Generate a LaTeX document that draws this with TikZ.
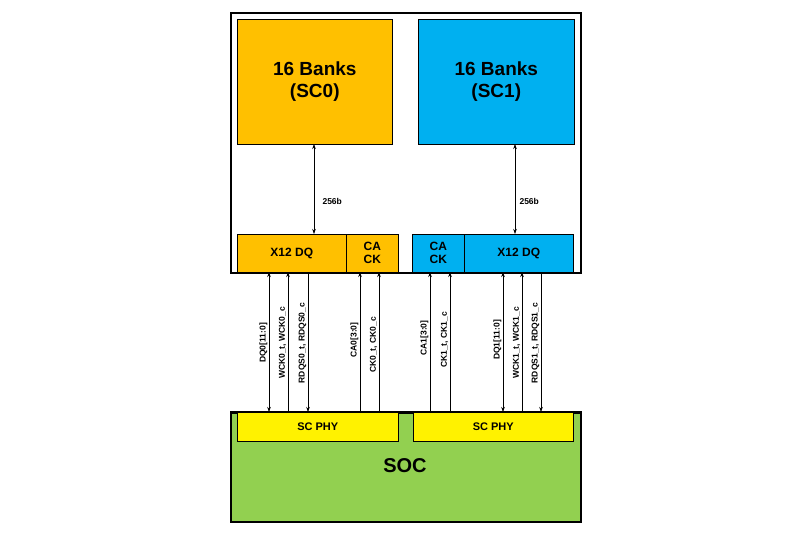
\documentclass[tikz,border=0pt]{standalone}
\usepackage{fontspec}
\setmainfont{Liberation Sans}
\usetikzlibrary{arrows.meta}
\begin{document}
\begin{tikzpicture}[x=1pt,y=-1pt,
  box/.style={draw=black,line width=0.6pt},
  big/.style={font=\fontsize{19}{22}\selectfont\bfseries,align=center},
  mid/.style={font=\fontsize{12}{13}\selectfont\bfseries,align=center},
  lab/.style={font=\fontsize{8.5}{9}\selectfont\bfseries,rotate=90,anchor=south,inner sep=1.5pt},
  sig/.style={draw=black,line width=0.5pt,>={Stealth[length=5pt,width=3.5pt]}}]
\useasboundingbox (0,0) rectangle (800,533);
% memory outer
\node[draw,line width=2pt,minimum width=350,minimum height=260,anchor=north west,inner sep=0] (mem) at (230,12) {};
\node[box,fill={rgb,255:red,255;green,192;blue,0},minimum width=155,minimum height=125,anchor=north west,inner sep=0,big] (b0) at (237,19) {16 Banks\\(SC0)};
\node[box,fill={rgb,255:red,0;green,176;blue,240},minimum width=156,minimum height=125,anchor=north west,inner sep=0,big] (b1) at (418,19) {16 Banks\\(SC1)};
% strips
\node[box,fill={rgb,255:red,255;green,192;blue,0},minimum width=109,minimum height=38,anchor=north west,inner sep=0,mid] (dq0) at (237,234) {X12 DQ};
\node[box,fill={rgb,255:red,255;green,192;blue,0},minimum width=52,minimum height=38,anchor=north west,inner sep=0,mid] (ca0) at (346,234) {CA\\CK};
\node[box,fill={rgb,255:red,0;green,176;blue,240},minimum width=52,minimum height=38,anchor=north west,inner sep=0,mid] (ca1) at (412,234) {CA\\CK};
\node[box,fill={rgb,255:red,0;green,176;blue,240},minimum width=109,minimum height=38,anchor=north west,inner sep=0,mid] (dq1) at (464,234) {X12 DQ};
% SOC
\node[draw,line width=2pt,fill={rgb,255:red,146;green,208;blue,80},minimum width=350,minimum height=109,anchor=north west,inner sep=0] (soc) at (230,412) {};
\node[big,font=\fontsize{20}{22}\selectfont\bfseries] (soct) at (405,466) {SOC};
\node[box,fill=yellow,minimum width=161,minimum height=29,anchor=north west,inner sep=0,mid,font=\fontsize{11}{12}\selectfont\bfseries] (p0) at (237,412) {SC PHY};
\node[box,fill=yellow,minimum width=160,minimum height=29,anchor=north west,inner sep=0,mid,font=\fontsize{11}{12}\selectfont\bfseries] (p1) at (413,412) {SC PHY};
\draw[draw,line width=2pt] (soc.north west) -- (soc.north east);
% bank arrows
\coordinate (a0t) at (314,144); \coordinate (a0b) at (314,234);
\coordinate (a1t) at (515,144); \coordinate (a1b) at (515,234);
\draw[sig,<->] (a0t) -- (a0b);
\draw[sig,<->] (a1t) -- (a1b);
\node[font=\fontsize{8.5}{9}\selectfont\bfseries,anchor=west] (l0) at (319,201) {256b};
\node[font=\fontsize{8.5}{9}\selectfont\bfseries,anchor=west] (l1) at (516,201) {256b};
% signals
\foreach \n/\x/\st/\t/\yy in {s1/269/<->/{DQ0[11:0]}/343,s2/288/->/{WCK0\_t, WCK0\_c}/343,s3/308/<-/{RDQS0\_t, RDQS0\_c}/343,
  s4/360/->/{CA0[3:0]}/340,s5/379/->/{CK0\_t, CK0\_c}/345,
  s6/430/->/{CA1[3:0]}/338,s7/450/->/{CK1\_t, CK1\_c}/340,
  s8/503/<->/{DQ1[11:0]}/340,s9/522/->/{WCK1\_t, WCK1\_c}/343,s10/541/<-/{RDQS1\_t, RDQS1\_c}/343}{
  \coordinate (\n t) at (\x,272);
  \coordinate (\n b) at (\x,412);
  \draw[sig,\st] (\n b) -- (\n t);
  \node[lab] (\n l) at (\x,\yy) {\t};
}
\end{tikzpicture}
\end{document}
